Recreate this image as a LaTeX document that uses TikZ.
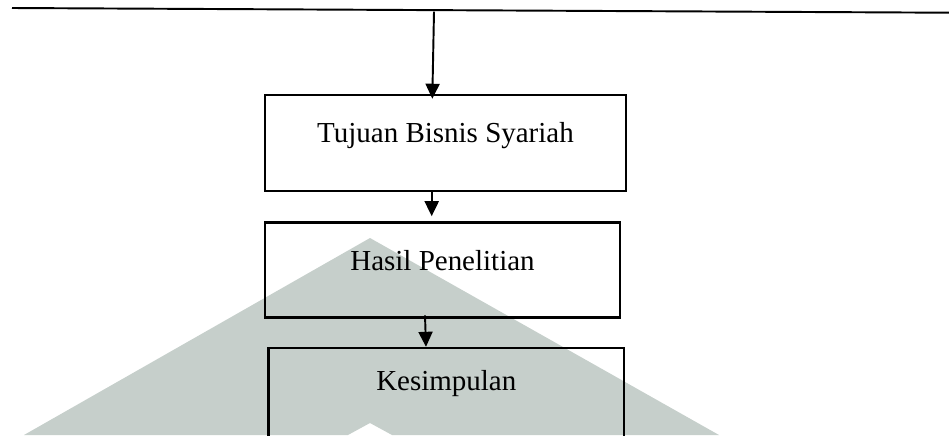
\documentclass[tikz,border=0pt]{standalone}
\usepackage{fontspec}
\setmainfont{Liberation Serif}
\usetikzlibrary{arrows.meta, calc}
\definecolor{tanda}{RGB}{198,207,203}

\begin{document}
\begin{tikzpicture}[x=0.414pt, y=-0.414pt,
    kotak/.style={draw, line width=1pt, inner sep=0pt, font=\fontsize{12}{14}\selectfont},
    panah/.style={-{Triangle[length=6.2pt, width=5.8pt]}, line width=0.8pt}]
    \useasboundingbox (0,0) rectangle (949,435);
    \clip (0,0) rectangle (949,435);
    % watermark
    \fill [tanda] (24,435) -- (370,238) -- (719,435) -- (392,435) -- (370,423) -- (348,435) -- cycle;
    \draw [line width=0.8pt] (12,8) -- (949,12.7);
    \coordinate (atas) at (434,11.7);
    \node [kotak, minimum width=149.5pt, text height=19.6pt, text depth=20.2pt] (tujuan) at (445.5,143) {Tujuan Bisnis Syariah};
    \node [kotak, minimum width=147pt, text height=19.7pt, text depth=19.7pt] (hasil) at (442.5,270) {Hasil Penelitian};
    \node [kotak, minimum width=147.1pt, text height=17.4pt, text depth=24pt] (kesimpulan) at (446.3,398) {Kesimpulan};
    \draw [panah] (atas) -- ($(tujuan.north)+(-13.2,5)$);
    \draw [panah] ($(tujuan.south)+(-13.8,0)$) -- ($(hasil.north)+(-10.8,-5)$);
    \draw [panah] ($(hasil.south)+(-17.5,-3.5)$) -- ($(kesimpulan.north)+(-20.3,0)$);
\end{tikzpicture}
\end{document}
